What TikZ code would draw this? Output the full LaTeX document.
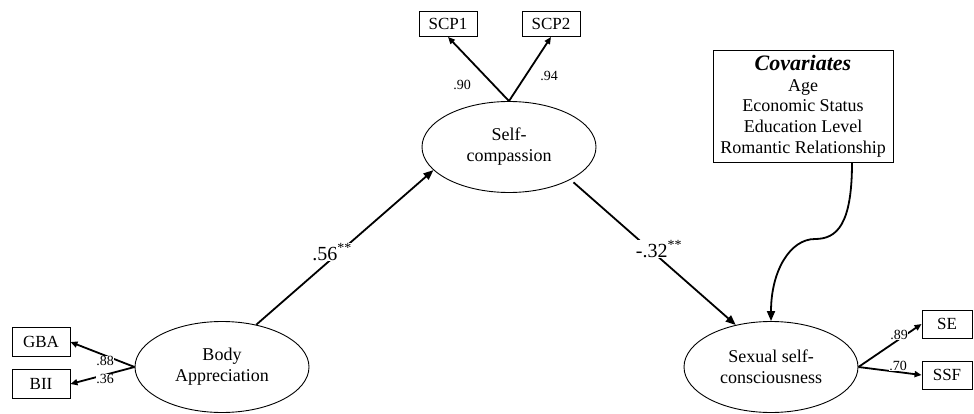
\documentclass[tikz,border=0pt]{standalone}
\usepackage{fontspec}
\setmainfont{Liberation Serif}
\usetikzlibrary{arrows.meta,shapes.geometric}
\begin{document}
\begin{tikzpicture}[x=1pt,y=-1pt,
  lat/.style={ellipse,draw,line width=0.9pt,minimum width=174pt,minimum height=91pt,inner sep=0pt,align=center,font=\fontsize{18}{21}\selectfont},
  obs/.style={rectangle,draw,line width=0.9pt,inner sep=0pt,font=\fontsize{17}{20}\selectfont},
  mainarr/.style={line width=1.8pt,-{Triangle[length=10pt,width=8pt]}},
  smallarr/.style={line width=1.8pt,-{Triangle[length=7pt,width=6pt]}},
  coef/.style={fill=white,inner sep=1pt,font=\fontsize{20}{24}\selectfont},
  load/.style={fill=white,inner sep=0.5pt,font=\fontsize{14}{16}\selectfont},
]
\useasboundingbox (0,0) rectangle (974,414);

% latent variables
\node[lat] (sc) at (509,147) {Self-\\compassion};
\node[lat] (ba) at (222,367) {Body\\Appreciation};
\node[lat] (ssc) at (771,367) {Sexual self-\\consciousness};

% indicators
\node[obs,minimum width=58pt,minimum height=25pt] (scp1) at (448,24) {SCP1};
\node[obs,minimum width=58pt,minimum height=25pt] (scp2) at (551,24) {SCP2};
\node[obs,minimum width=58pt,minimum height=29pt] (gba) at (41,342) {GBA};
\node[obs,minimum width=58pt,minimum height=29pt] (bii) at (41,384) {BII};
\node[obs,minimum width=50pt,minimum height=28pt] (se) at (947,324) {SE};
\node[obs,minimum width=50pt,minimum height=28pt] (ssf) at (947,375) {SSF};

% covariates
\node[draw,line width=0.9pt,minimum width=180pt,minimum height=112pt,inner sep=0pt,align=center,
      font=\fontsize{18}{20.7}\selectfont] (cov) at (803,106)
  {{\fontsize{22}{22}\selectfont\bfseries\itshape Covariates}\\Age\\Economic Status\\Education Level\\Romantic Relationship};

% loadings
\draw[smallarr] (sc.north) -- (scp1.south);
\draw[smallarr] (sc.north) -- (scp2.south);
\node[load] (l90) at (462,85) {.90};
\node[load] (l94) at (549,76) {.94};

\draw[smallarr] (ba.west) -- (gba.east);
\draw[smallarr] (ba.west) -- (bii.east);
\node[load] (l88) at (105,361) {.88};
\node[load] (l36) at (105,379) {.36};

\draw[smallarr] (ssc.east) -- (se.west);
\draw[smallarr] (ssc.east) -- (ssf.west);
\node[load] (l89) at (899,335) {.89};
\node[load] (l70) at (898,366) {.70};

% structural paths
\draw[mainarr] (ba.51) -- (sc.197);
\node[coef] (c56) at (332,252) {.56\textsuperscript{**}};
\draw[mainarr,shorten <=4pt] (sc.-28) -- (ssc.130);
\node[coef] (c32) at (659,249) {-.32\textsuperscript{**}};

% covariate path
\coordinate (bend) at (815,239);
\draw[mainarr] ([xshift=49pt]cov.south) .. controls +(0,62) and +(22,0) .. (bend)
  .. controls +(-25,0) and +(0,-50) .. (ssc.north);
\end{tikzpicture}
\end{document}
